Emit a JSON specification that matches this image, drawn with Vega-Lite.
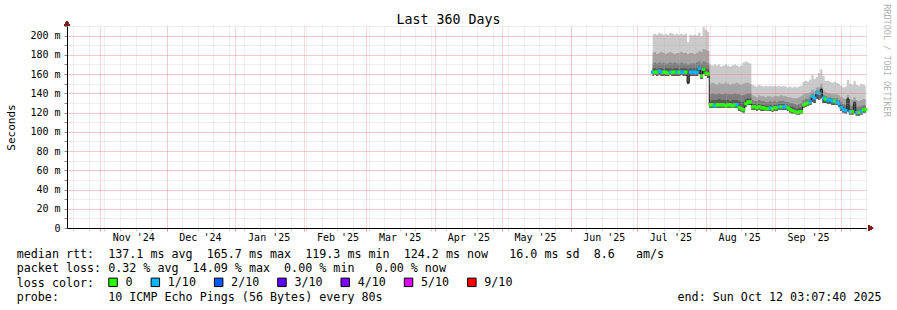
{
  "$schema": "https://vega.github.io/schema/vega-lite/v6.json",
  "width": 799,
  "height": 202,
  "autosize": {"type": "none"},
  "padding": {"left": 67, "top": 26, "right": 31, "bottom": 82},
  "background": "white",
  "config": {"view": {"stroke": null}, "font": "DejaVu Sans Mono"},
  "title": {"text": "Last 360 Days", "font": "DejaVu Sans Mono", "fontSize": 13.3, "fontWeight": "normal", "color": "black", "anchor": "middle", "frame": "group", "dx": -18, "offset": 0, "dy": 34, "baseline": "alphabetic"},
  "datasets": {
    "smoke": [
      {"t": "2025-07-08", "mx": 201, "q9": 182, "q8": 171, "q7": 166, "md": 162, "mn": 158, "loss": "1/10"},
      {"t": "2025-07-09", "mx": 202, "q9": 183, "q8": 172, "q7": 166, "md": 162, "mn": 159, "loss": "0"},
      {"t": "2025-07-10", "mx": 201, "q9": 181, "q8": 171, "q7": 165, "md": 162, "mn": 158, "loss": "0"},
      {"t": "2025-07-11", "mx": 203, "q9": 182, "q8": 172, "q7": 166, "md": 163, "mn": 159, "loss": "1/10"},
      {"t": "2025-07-12", "mx": 202, "q9": 183, "q8": 171, "q7": 166, "md": 162, "mn": 158, "loss": "1/10"},
      {"t": "2025-07-13", "mx": 201, "q9": 182, "q8": 172, "q7": 165, "md": 162, "mn": 158, "loss": "0"},
      {"t": "2025-07-14", "mx": 202, "q9": 181, "q8": 171, "q7": 166, "md": 162, "mn": 158, "loss": "0"},
      {"t": "2025-07-15", "mx": 201, "q9": 182, "q8": 171, "q7": 166, "md": 161, "mn": 158, "loss": "0"},
      {"t": "2025-07-16", "mx": 203, "q9": 183, "q8": 172, "q7": 166, "md": 162, "mn": 159, "loss": "1/10"},
      {"t": "2025-07-17", "mx": 202, "q9": 182, "q8": 171, "q7": 165, "md": 162, "mn": 158, "loss": "0"},
      {"t": "2025-07-18", "mx": 201, "q9": 181, "q8": 172, "q7": 166, "md": 162, "mn": 158, "loss": "0"},
      {"t": "2025-07-19", "mx": 202, "q9": 182, "q8": 171, "q7": 166, "md": 162, "mn": 158, "loss": "1/10"},
      {"t": "2025-07-20", "mx": 201, "q9": 182, "q8": 171, "q7": 165, "md": 162, "mn": 158, "loss": "0"},
      {"t": "2025-07-21", "mx": 202, "q9": 183, "q8": 172, "q7": 166, "md": 162, "mn": 159, "loss": "1/10"},
      {"t": "2025-07-22", "mx": 201, "q9": 182, "q8": 171, "q7": 166, "md": 162, "mn": 158, "loss": "1/10"},
      {"t": "2025-07-23", "mx": 202, "q9": 182, "q8": 171, "q7": 166, "md": 162, "mn": 158, "loss": "0"},
      {"t": "2025-07-24", "mx": 193, "q9": 181, "q8": 170, "q7": 165, "md": 151, "mn": 150, "loss": null},
      {"t": "2025-07-25", "mx": 201, "q9": 182, "q8": 171, "q7": 166, "md": 162, "mn": 158, "loss": "1/10"},
      {"t": "2025-07-26", "mx": 200, "q9": 182, "q8": 171, "q7": 165, "md": 162, "mn": 158, "loss": "1/10"},
      {"t": "2025-07-27", "mx": 201, "q9": 181, "q8": 171, "q7": 166, "md": 162, "mn": 158, "loss": "1/10"},
      {"t": "2025-07-28", "mx": 200, "q9": 182, "q8": 172, "q7": 166, "md": 162, "mn": 158, "loss": "1/10"},
      {"t": "2025-07-29", "mx": 203, "q9": 184, "q8": 173, "q7": 168, "md": 166, "mn": 160, "loss": "1/10"},
      {"t": "2025-07-30", "mx": 199, "q9": 183, "q8": 171, "q7": 164, "md": 158, "mn": 155, "loss": "0"},
      {"t": "2025-07-31", "mx": 209, "q9": 186, "q8": 173, "q7": 167, "md": 165, "mn": 160, "loss": "0"},
      {"t": "2025-08-01", "mx": 206, "q9": 185, "q8": 172, "q7": 166, "md": 161, "mn": 158, "loss": "0"},
      {"t": "2025-08-02", "mx": 204, "q9": 184, "q8": 171, "q7": 165, "md": 160, "mn": 156, "loss": "0"},
      {"t": "2025-08-03", "mx": 170, "q9": 150, "q8": 139, "q7": 133, "md": 128, "mn": 125, "loss": "0"},
      {"t": "2025-08-04", "mx": 169, "q9": 151, "q8": 140, "q7": 133, "md": 128, "mn": 125, "loss": "0"},
      {"t": "2025-08-05", "mx": 170, "q9": 150, "q8": 139, "q7": 133, "md": 127, "mn": 125, "loss": "1/10"},
      {"t": "2025-08-06", "mx": 169, "q9": 149, "q8": 139, "q7": 133, "md": 128, "mn": 125, "loss": "0"},
      {"t": "2025-08-07", "mx": 170, "q9": 151, "q8": 140, "q7": 134, "md": 128, "mn": 125, "loss": "0"},
      {"t": "2025-08-08", "mx": 168, "q9": 150, "q8": 139, "q7": 133, "md": 128, "mn": 125, "loss": "0"},
      {"t": "2025-08-09", "mx": 169, "q9": 150, "q8": 139, "q7": 133, "md": 128, "mn": 125, "loss": "0"},
      {"t": "2025-08-10", "mx": 170, "q9": 151, "q8": 140, "q7": 133, "md": 127, "mn": 125, "loss": "0"},
      {"t": "2025-08-11", "mx": 169, "q9": 150, "q8": 139, "q7": 133, "md": 128, "mn": 125, "loss": "0"},
      {"t": "2025-08-12", "mx": 168, "q9": 149, "q8": 139, "q7": 132, "md": 128, "mn": 125, "loss": "0"},
      {"t": "2025-08-13", "mx": 169, "q9": 150, "q8": 139, "q7": 133, "md": 127, "mn": 125, "loss": "0"},
      {"t": "2025-08-14", "mx": 170, "q9": 150, "q8": 140, "q7": 133, "md": 128, "mn": 125, "loss": "0"},
      {"t": "2025-08-15", "mx": 169, "q9": 151, "q8": 139, "q7": 133, "md": 128, "mn": 125, "loss": "1/10"},
      {"t": "2025-08-16", "mx": 168, "q9": 150, "q8": 139, "q7": 132, "md": 125, "mn": 122, "loss": "0"},
      {"t": "2025-08-17", "mx": 169, "q9": 149, "q8": 138, "q7": 131, "md": 124, "mn": 121, "loss": "0"},
      {"t": "2025-08-18", "mx": 172, "q9": 150, "q8": 138, "q7": 131, "md": 123, "mn": 120, "loss": "0"},
      {"t": "2025-08-19", "mx": 173, "q9": 151, "q8": 139, "q7": 134, "md": 129, "mn": 126, "loss": "0"},
      {"t": "2025-08-20", "mx": 172, "q9": 151, "q8": 140, "q7": 135, "md": 131, "mn": 128, "loss": "0"},
      {"t": "2025-08-21", "mx": 171, "q9": 150, "q8": 140, "q7": 135, "md": 131, "mn": 128, "loss": "0"},
      {"t": "2025-08-22", "mx": 149, "q9": 138, "q8": 133, "q7": 129, "md": 126, "mn": 123, "loss": "0"},
      {"t": "2025-08-23", "mx": 148, "q9": 137, "q8": 132, "q7": 129, "md": 126, "mn": 123, "loss": "0"},
      {"t": "2025-08-24", "mx": 147, "q9": 136, "q8": 132, "q7": 128, "md": 125, "mn": 122, "loss": "0"},
      {"t": "2025-08-25", "mx": 149, "q9": 138, "q8": 133, "q7": 129, "md": 126, "mn": 123, "loss": "0"},
      {"t": "2025-08-26", "mx": 148, "q9": 137, "q8": 132, "q7": 128, "md": 125, "mn": 122, "loss": "0"},
      {"t": "2025-08-27", "mx": 147, "q9": 137, "q8": 132, "q7": 128, "md": 125, "mn": 122, "loss": "0"},
      {"t": "2025-08-28", "mx": 148, "q9": 136, "q8": 131, "q7": 127, "md": 124, "mn": 122, "loss": "0"},
      {"t": "2025-08-29", "mx": 147, "q9": 137, "q8": 131, "q7": 127, "md": 124, "mn": 122, "loss": "0"},
      {"t": "2025-08-30", "mx": 148, "q9": 137, "q8": 132, "q7": 128, "md": 125, "mn": 122, "loss": "1/10"},
      {"t": "2025-08-31", "mx": 147, "q9": 136, "q8": 131, "q7": 127, "md": 124, "mn": 121, "loss": "0"},
      {"t": "2025-09-01", "mx": 148, "q9": 137, "q8": 132, "q7": 128, "md": 125, "mn": 122, "loss": "0"},
      {"t": "2025-09-02", "mx": 147, "q9": 137, "q8": 131, "q7": 128, "md": 125, "mn": 122, "loss": "0"},
      {"t": "2025-09-03", "mx": 148, "q9": 137, "q8": 132, "q7": 129, "md": 126, "mn": 123, "loss": "1/10"},
      {"t": "2025-09-04", "mx": 147, "q9": 138, "q8": 132, "q7": 129, "md": 126, "mn": 123, "loss": "0"},
      {"t": "2025-09-05", "mx": 148, "q9": 137, "q8": 132, "q7": 129, "md": 126, "mn": 123, "loss": "1/10"},
      {"t": "2025-09-06", "mx": 147, "q9": 137, "q8": 131, "q7": 128, "md": 126, "mn": 123, "loss": "1/10"},
      {"t": "2025-09-07", "mx": 146, "q9": 136, "q8": 131, "q7": 128, "md": 125, "mn": 122, "loss": "0"},
      {"t": "2025-09-08", "mx": 147, "q9": 136, "q8": 130, "q7": 126, "md": 123, "mn": 120, "loss": "0"},
      {"t": "2025-09-09", "mx": 146, "q9": 135, "q8": 130, "q7": 126, "md": 122, "mn": 119, "loss": "0"},
      {"t": "2025-09-10", "mx": 147, "q9": 135, "q8": 129, "q7": 125, "md": 121, "mn": 119, "loss": "0"},
      {"t": "2025-09-11", "mx": 146, "q9": 135, "q8": 128, "q7": 124, "md": 120, "mn": 118, "loss": "0"},
      {"t": "2025-09-12", "mx": 147, "q9": 136, "q8": 129, "q7": 125, "md": 121, "mn": 118, "loss": "0"},
      {"t": "2025-09-13", "mx": 148, "q9": 137, "q8": 130, "q7": 125, "md": 121, "mn": 119, "loss": "0"},
      {"t": "2025-09-14", "mx": 152, "q9": 139, "q8": 133, "q7": 130, "md": 128, "mn": 125, "loss": "0"},
      {"t": "2025-09-15", "mx": 153, "q9": 140, "q8": 134, "q7": 131, "md": 129, "mn": 126, "loss": "0"},
      {"t": "2025-09-16", "mx": 152, "q9": 140, "q8": 134, "q7": 132, "md": 130, "mn": 127, "loss": "0"},
      {"t": "2025-09-17", "mx": 154, "q9": 141, "q8": 136, "q7": 133, "md": 131, "mn": 128, "loss": "1/10"},
      {"t": "2025-09-18", "mx": 159, "q9": 144, "q8": 140, "q7": 138, "md": 137, "mn": 131, "loss": "1/10"},
      {"t": "2025-09-19", "mx": 155, "q9": 142, "q8": 138, "q7": 136, "md": 135, "mn": 130, "loss": "1/10"},
      {"t": "2025-09-20", "mx": 157, "q9": 146, "q8": 143, "q7": 142, "md": 141, "mn": 134, "loss": "1/10"},
      {"t": "2025-09-21", "mx": 161, "q9": 146, "q8": 143, "q7": 141, "md": 140, "mn": 133, "loss": "1/10"},
      {"t": "2025-09-22", "mx": 165, "q9": 150, "q8": 146, "q7": 145, "md": 144, "mn": 135, "loss": null},
      {"t": "2025-09-23", "mx": 158, "q9": 143, "q8": 138, "q7": 136, "md": 135, "mn": 130, "loss": "1/10"},
      {"t": "2025-09-24", "mx": 153, "q9": 141, "q8": 137, "q7": 135, "md": 134, "mn": 130, "loss": "0"},
      {"t": "2025-09-25", "mx": 153, "q9": 140, "q8": 136, "q7": 134, "md": 133, "mn": 129, "loss": "1/10"},
      {"t": "2025-09-26", "mx": 152, "q9": 140, "q8": 136, "q7": 134, "md": 133, "mn": 129, "loss": "1/10"},
      {"t": "2025-09-27", "mx": 151, "q9": 139, "q8": 135, "q7": 133, "md": 132, "mn": 128, "loss": "1/10"},
      {"t": "2025-09-28", "mx": 152, "q9": 139, "q8": 135, "q7": 133, "md": 132, "mn": 128, "loss": "0"},
      {"t": "2025-09-29", "mx": 151, "q9": 139, "q8": 135, "q7": 133, "md": 131, "mn": 128, "loss": "1/10"},
      {"t": "2025-09-30", "mx": 150, "q9": 138, "q8": 133, "q7": 131, "md": 129, "mn": 126, "loss": "1/10"},
      {"t": "2025-10-01", "mx": 148, "q9": 136, "q8": 131, "q7": 128, "md": 125, "mn": 122, "loss": "1/10"},
      {"t": "2025-10-02", "mx": 146, "q9": 135, "q8": 129, "q7": 126, "md": 123, "mn": 120, "loss": "1/10"},
      {"t": "2025-10-03", "mx": 147, "q9": 134, "q8": 128, "q7": 125, "md": 122, "mn": 119, "loss": "1/10"},
      {"t": "2025-10-04", "mx": 154, "q9": 138, "q8": 136, "q7": 135, "md": 134, "mn": 121, "loss": null},
      {"t": "2025-10-05", "mx": 150, "q9": 134, "q8": 127, "q7": 124, "md": 121, "mn": 118, "loss": "1/10"},
      {"t": "2025-10-06", "mx": 149, "q9": 133, "q8": 127, "q7": 123, "md": 121, "mn": 118, "loss": "0"},
      {"t": "2025-10-07", "mx": 153, "q9": 136, "q8": 132, "q7": 131, "md": 130, "mn": 119, "loss": null},
      {"t": "2025-10-08", "mx": 149, "q9": 133, "q8": 126, "q7": 122, "md": 120, "mn": 117, "loss": "1/10"},
      {"t": "2025-10-09", "mx": 148, "q9": 132, "q8": 126, "q7": 122, "md": 120, "mn": 117, "loss": "0"},
      {"t": "2025-10-10", "mx": 150, "q9": 133, "q8": 127, "q7": 123, "md": 121, "mn": 118, "loss": "1/10"},
      {"t": "2025-10-11", "mx": 149, "q9": 134, "q8": 128, "q7": 125, "md": 123, "mn": 120, "loss": "0"},
      {"t": "2025-10-12", "mx": 148, "q9": 134, "q8": 128, "q7": 125, "md": 123, "mn": 120, "loss": "0"}
    ],
    "legendtext": [
      {"row": 1, "col": 0, "text": "median\u00a0rtt:\u00a0\u00a0137.1\u00a0ms\u00a0avg\u00a0\u00a0165.7\u00a0ms\u00a0max\u00a0\u00a0119.3\u00a0ms\u00a0min\u00a0\u00a0124.2\u00a0ms\u00a0now\u00a0\u00a0\u00a016.0\u00a0ms\u00a0sd\u00a0\u00a08.6\u00a0\u00a0\u00a0am/s"},
      {"row": 2, "col": 0, "text": "packet\u00a0loss:\u00a00.32\u00a0%\u00a0avg\u00a0\u00a014.09\u00a0%\u00a0max\u00a0\u00a00.00\u00a0%\u00a0min\u00a0\u00a0\u00a00.00\u00a0%\u00a0now"},
      {"row": 4, "col": 0, "text": "probe:\u00a0\u00a0\u00a0\u00a0\u00a0\u00a0\u00a010\u00a0ICMP\u00a0Echo\u00a0Pings\u00a0(56\u00a0Bytes)\u00a0every\u00a080s"},
      {"row": 4, "col": 94, "text": "end:\u00a0Sun\u00a0Oct\u00a012\u00a003:07:40\u00a02025"}
    ]
  },
  "layer": [
    {
      "data": {"name": "smoke"},
      "resolve": {"axis": {"x": "independent", "y": "independent"}},
      "layer": [
        {
          "mark": {"type": "area", "interpolate": "step", "color": "#cacaca", "opacity": 1},
          "encoding": {
            "x": {"field": "t", "type": "temporal",
              "scale": {"type": "utc", "domain": [{"year": 2024, "month": 10, "date": 17, "hours": 3, "minutes": 7, "seconds": 40, "utc": true}, {"year": 2025, "month": 10, "date": 12, "hours": 3, "minutes": 7, "seconds": 40, "utc": true}]},
              "axis": {"orient": "bottom", "tickCount": {"interval": "week", "step": 1}, "grid": true, "gridColor": "#b4b4b4", "gridOpacity": 0.45, "gridDash": [1, 1], "labels": false, "ticks": true, "tickColor": "#b4b4b4", "tickOpacity": 0.6, "tickSize": 3, "domain": false, "title": null, "zindex": 1}},
            "y": {"field": "mn", "type": "quantitative",
              "scale": {"domain": [0, 210], "nice": false, "zero": false},
              "axis": {"orient": "left", "values": [0, 10, 20, 30, 40, 50, 60, 70, 80, 90, 100, 110, 120, 130, 140, 150, 160, 170, 180, 190, 200, 210], "grid": true, "gridColor": "#b4b4b4", "gridOpacity": 0.45, "gridDash": [1, 1], "labels": false, "ticks": true, "tickColor": "#888888", "tickSize": 3, "domain": false, "title": null, "zindex": 1}},
            "y2": {"field": "mx"}
          }
        },
        {
          "mark": {"type": "area", "interpolate": "step", "color": "#a4a4a4", "opacity": 1},
          "encoding": {
            "x": {"field": "t", "type": "temporal",
              "axis": {"orient": "bottom", "tickCount": {"interval": "month", "step": 1}, "grid": true, "gridColor": "#ff5f5f", "gridOpacity": 0.5, "gridDash": [1, 1], "labels": false, "ticks": true, "tickColor": "#ff5f5f", "tickOpacity": 0.7, "tickSize": 3, "domain": false, "title": null, "zindex": 1}},
            "y": {"field": "mn", "type": "quantitative",
              "axis": {"orient": "left", "values": [0, 20, 40, 60, 80, 100, 120, 140, 160, 180, 200], "grid": true, "gridColor": "#ff5f5f", "gridOpacity": 0.5, "gridDash": [1, 1], "ticks": false, "tickSize": 0, "labels": true, "labelExpr": "datum.value == 0 ? '0' : datum.value + ' m'", "labelFont": "DejaVu Sans Mono", "labelFontSize": 10, "labelColor": "black", "labelPadding": 7, "domain": false, "title": "Seconds", "titleFont": "DejaVu Sans Mono", "titleFontSize": 11, "titleFontWeight": "normal", "titleColor": "black", "titleX": -56, "titleBaseline": "middle", "zindex": 1}},
            "y2": {"field": "q9"}
          }
        },
        {
          "mark": {"type": "area", "interpolate": "step", "color": "#7e7e7e", "opacity": 1},
          "encoding": {
            "x": {"field": "t", "type": "temporal",
              "axis": {"orient": "bottom", "values": [
                {"year": 2024, "month": 11, "date": 16, "utc": true},
                {"year": 2024, "month": 12, "date": 16, "utc": true},
                {"year": 2025, "month": 1, "date": 16, "utc": true},
                {"year": 2025, "month": 2, "date": 16, "utc": true},
                {"year": 2025, "month": 3, "date": 16, "utc": true},
                {"year": 2025, "month": 4, "date": 16, "utc": true},
                {"year": 2025, "month": 5, "date": 16, "utc": true},
                {"year": 2025, "month": 6, "date": 16, "utc": true},
                {"year": 2025, "month": 7, "date": 16, "utc": true},
                {"year": 2025, "month": 8, "date": 16, "utc": true},
                {"year": 2025, "month": 9, "date": 16, "utc": true}],
                "format": "%b '%y", "grid": false, "ticks": false, "tickSize": 0, "labelPadding": 4, "labelFont": "DejaVu Sans Mono", "labelFontSize": 10, "labelColor": "black", "labelFlush": false, "labelOverlap": false, "labelBaseline": "top", "domain": true, "domainColor": "black", "domainWidth": 1, "title": null, "zindex": 1}},
            "y": {"field": "mn", "type": "quantitative",
              "axis": {"orient": "left", "grid": false, "ticks": false, "labels": false, "domain": true, "domainColor": "black", "domainWidth": 1, "title": null, "zindex": 1}},
            "y2": {"field": "q8"}
          }
        },
        {
          "mark": {"type": "area", "interpolate": "step", "color": "#585858", "opacity": 1},
          "encoding": {
            "x": {"field": "t", "type": "temporal", "axis": null},
            "y": {"field": "mn", "type": "quantitative", "axis": null},
            "y2": {"field": "q7"}
          }
        },
        {
          "mark": {"type": "line", "interpolate": "step", "color": "#202020", "strokeWidth": 1},
          "encoding": {
            "x": {"field": "t", "type": "temporal", "axis": null},
            "y": {"field": "md", "type": "quantitative", "axis": null}
          }
        },
        {
          "transform": [{"filter": "datum.loss != null"}],
          "mark": {"type": "square", "size": 11, "opacity": 1, "filled": true},
          "encoding": {
            "x": {"field": "t", "type": "temporal", "axis": null},
            "y": {"field": "md", "type": "quantitative", "axis": null},
            "color": {"field": "loss", "type": "nominal",
              "scale": {"domain": ["0", "1/10", "2/10", "3/10", "4/10", "5/10", "9/10"], "range": ["#26ff00", "#00b8ff", "#0059ff", "#5e00ff", "#7e00ff", "#dd00ff", "#ff0000"]},
              "legend": {"orient": "none", "legendX": -50.3, "legendY": 250.5, "direction": "horizontal", "columns": 7, "gridAlign": "none", "title": "loss color:", "titleOrient": "left", "titleFont": "DejaVu Sans Mono", "titleFontSize": 11.7, "titleFontWeight": "normal", "titleColor": "black", "titlePadding": 12.5, "titleBaseline": "middle", "symbolType": "square", "symbolSize": 72, "symbolStrokeColor": "black", "symbolStrokeWidth": 1, "symbolOpacity": 1, "labelFont": "DejaVu Sans Mono", "labelFontSize": 11.7, "labelColor": "black", "labelOffset": 6.6, "columnPadding": 15.3, "rowPadding": 0, "padding": 0, "symbolOffset": 0, "labelLimit": 300}}
          }
        },
        {
          "mark": {"type": "point", "shape": "triangle-up", "filled": true, "color": "#7f1f1f", "opacity": 1, "size": 24},
          "encoding": {
            "x": {"datum": {"year": 2024, "month": 10, "date": 17, "hours": 3, "minutes": 7, "seconds": 40, "utc": true}, "type": "temporal", "axis": null},
            "y": {"datum": 213, "type": "quantitative", "axis": null}
          }
        },
        {
          "mark": {"type": "point", "shape": "triangle-right", "filled": true, "color": "#7f1f1f", "opacity": 1, "size": 24},
          "encoding": {
            "x": {"datum": {"year": 2025, "month": 10, "date": 14, "hours": 9, "utc": true}, "type": "temporal", "axis": null},
            "y": {"datum": 0, "type": "quantitative", "axis": null}
          }
        }
      ]
    },
    {
      "data": {"name": "legendtext"},
      "mark": {"type": "text", "align": "left", "baseline": "middle", "font": "DejaVu Sans Mono", "fontSize": 11.7, "color": "black"},
      "encoding": {
        "x": {"field": "col", "type": "quantitative", "scale": {"domain": [0, 100], "range": [-50.3, 652.7], "nice": false, "zero": false}, "axis": null},
        "y": {"field": "row", "type": "quantitative", "scale": {"domain": [1, 4], "range": [228.3, 270.7], "nice": false, "zero": false},
          "axis": {"orient": "right", "title": "RRDTOOL / TOBI OETIKER", "titleAngle": 90, "titleX": 20, "titleY": 34, "titleAlign": "center", "titleBaseline": "middle", "titleFont": "DejaVu Sans Mono", "titleFontSize": 8.5, "titleFontWeight": "normal", "titleColor": "#b0b0b0", "labels": false, "ticks": false, "domain": false, "grid": false}},
        "text": {"field": "text"}
      }
    }
  ],
  "resolve": {"scale": {"x": "independent", "y": "independent"}, "axis": {"x": "independent", "y": "independent"}}
}
